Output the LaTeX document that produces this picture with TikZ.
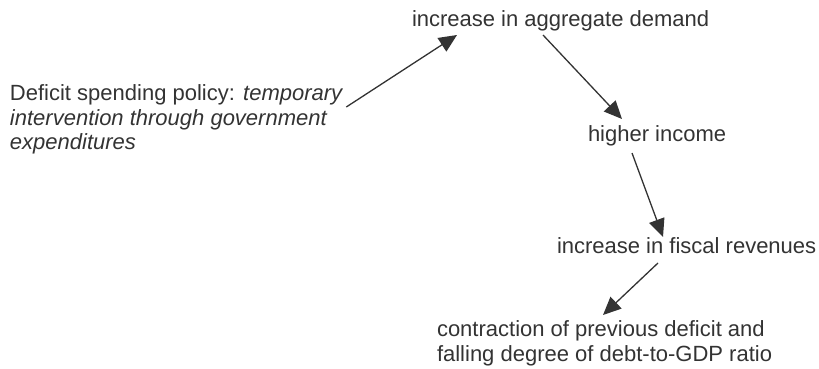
\documentclass[tikz,border=0pt]{standalone}
\usepackage{fontspec}
\setmainfont{Liberation Sans}
\usepackage{tikz}
\usetikzlibrary{arrows.meta, positioning, calc}
\usepackage{xcolor}
\definecolor{inkgray}{RGB}{51,51,51}
\tikzstyle{txt} = [inner sep=0pt, outer sep=0pt, text=inkgray, font=\fontsize{11}{12.15}\selectfont, align=left]
\tikzstyle{arrow} = [line width=0.65pt, draw=inkgray, -{Triangle[length=9pt,width=8pt]}]

\begin{document}
\begin{tikzpicture}[x=0.5pt, y=-0.5pt]
    \useasboundingbox (0,0) rectangle (819,369);

    % Policy (start)
    \node (deficit) [txt, anchor=north west] at (10,85) {Deficit spending policy: \textit{temporary}\\\textit{intervention through government}\\\textit{expenditures}};

    % Chain of effects
    \node (demand) [txt, anchor=base west] at (412,27) {increase in aggregate demand};
    \node (income) [txt, anchor=base west] at (588,141) {higher income};
    \node (fiscal) [txt, anchor=base west] at (557,253) {increase in fiscal revenues};
    \node (contraction) [txt, anchor=north west] at (437,321) {contraction of previous deficit and\\falling degree of debt-to-GDP ratio};

    % Arrows
    \draw [arrow] ($(deficit.north east)+(3,22)$) -- ($(demand.base west)+(45,8)$);
    \draw [arrow] ($(demand.base west)+(131,8)$) -- ($(income.base west)+(34,-22)$);
    \draw [arrow] ($(income.base west)+(44,12)$) -- ($(fiscal.base west)+(106,-16)$);
    \draw [arrow] ($(fiscal.base west)+(101,10)$) -- ($(contraction.north west)+(166,-6)$);

\end{tikzpicture}
\end{document}
